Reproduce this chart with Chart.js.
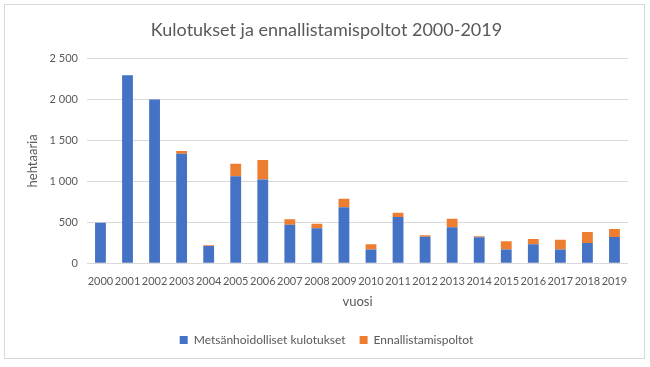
<!DOCTYPE html>
<html>
<head>
<meta charset="utf-8">
<script src="https://cdn.jsdelivr.net/npm/chart.js@4.4.0/dist/chart.umd.min.js"></script>
<style>
  html, body { margin: 0; padding: 0; background: #fff; }
  #wrap { position: absolute; left: 4px; top: 4px; width: 641px; height: 355px; border: 1px solid #d9d9d9; box-sizing: border-box; }
  #c { position: absolute; left: 0; top: 0; }
</style>
</head>
<body>
<div id="wrap"></div>
<canvas id="c" width="650" height="367"></canvas>
<script>
const years = ['2000','2001','2002','2003','2004','2005','2006','2007','2008','2009','2010','2011','2012','2013','2014','2015','2016','2017','2018','2019'];
const metsanhoidolliset = [495, 2296, 2000, 1337, 211, 1061, 1024, 471, 427, 685, 166, 565, 324, 439, 317, 166, 232, 166, 248, 321];
const ennallistamis = [0, 0, 0, 33, 8, 154, 236, 66, 56, 101, 66, 52, 17, 105, 12, 102, 64, 122, 134, 97];
const yTicks = [0, 500, 1000, 1500, 2000, 2500];

const FONT = 'Lato, "Open Sans", sans-serif';
const TXT = '#595959';

new Chart(document.getElementById('c'), {
  type: 'bar',
  data: {
    labels: years,
    datasets: [
      { label: 'Metsänhoidolliset kulotukset', data: metsanhoidolliset, backgroundColor: '#4472C4', borderWidth: 0, categoryPercentage: 1, barPercentage: 0.4 },
      { label: 'Ennallistamispoltot', data: ennallistamis, backgroundColor: '#ED7D31', borderWidth: 0, categoryPercentage: 1, barPercentage: 0.4 }
    ]
  },
  options: {
    responsive: false,
    animation: false,
    layout: { padding: { left: 25, right: 22, top: 12, bottom: 11 } },
    plugins: {
      title: { display: true, text: 'Kulotukset ja ennallistamispoltot 2000-2019', color: TXT, font: { family: FONT, size: 18, weight: 'normal' }, padding: { top: 7, bottom: 18 } },
      legend: { position: 'bottom', labels: { color: TXT, font: { family: FONT, size: 12 }, boxWidth: 8, boxHeight: 8, padding: 14 } },
      tooltip: { enabled: false }
    },
    scales: {
      x: {
        stacked: true,
        grid: { display: false },
        border: { display: false },
        ticks: { color: TXT, font: { family: FONT, size: 11 }, maxRotation: 0, autoSkip: false, padding: 4 },
        title: { display: true, text: 'vuosi', color: TXT, font: { family: FONT, size: 13 }, padding: { top: 2, bottom: 10 } }
      },
      y: {
        stacked: true,
        min: 0, max: 2500,
        afterBuildTicks: (axis) => { axis.ticks = yTicks.map(v => ({ value: v })); },
        grid: { color: '#d9d9d9', drawTicks: false },
        border: { display: false },
        ticks: { color: TXT, font: { family: FONT, size: 11 }, padding: 9, callback: (v) => v.toLocaleString('fi-FI').replace(/\u00a0/g, ' ') },
        title: { display: true, text: 'hehtaaria', color: TXT, font: { family: FONT, size: 13 }, padding: { top: 0, bottom: 0 } }
      }
    }
  }
});
</script>
</body>
</html>
